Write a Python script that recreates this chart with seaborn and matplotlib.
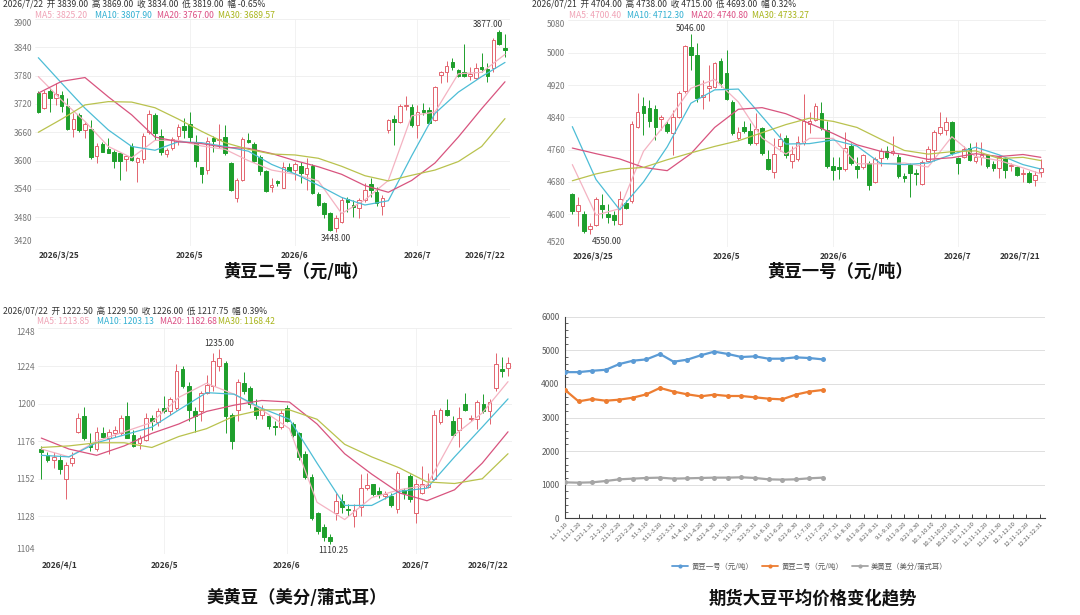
import numpy as np
import pandas as pd
import matplotlib
matplotlib.use("Agg")
from matplotlib import pyplot as plt
from matplotlib.lines import Line2D
from matplotlib.ticker import MultipleLocator
import seaborn as sns

W, H = 1080, 615

# ---------------- 黄豆二号（元/吨） 2026/3/25 - 2026/7/22 ----------------
d2_open = [3743, 3712, 3747, 3733, 3740, 3716, 3668, 3697, 3665, 3668, 3610, 3635, 3624, 3619, 3617, 3603, 3631, 3598, 3603, 3660,
           3697, 3653, 3613, 3626, 3653, 3673, 3678, 3640, 3586, 3580, 3647, 3643, 3651, 3596, 3520, 3559, 3643, 3635, 3608, 3577,
           3545, 3556, 3543, 3587, 3580, 3589, 3571, 3589, 3529, 3510, 3488, 3457, 3471, 3518, 3507, 3499, 3517, 3550, 3533, 3503,
           3665, 3688, 3681, 3716, 3714, 3675, 3707, 3707, 3686, 3781, 3787, 3808, 3792, 3787, 3780, 3776, 3798, 3794, 3796, 3872, 3839]
d2_high = [3748, 3750, 3753, 3764, 3748, 3732, 3700, 3700, 3681, 3686, 3637, 3640, 3647, 3623, 3619, 3612, 3637, 3608, 3658, 3707,
           3700, 3668, 3626, 3651, 3677, 3691, 3702, 3654, 3587, 3651, 3653, 3678, 3676, 3598, 3563, 3649, 3658, 3640, 3612, 3580,
           3563, 3559, 3598, 3594, 3598, 3598, 3605, 3592, 3534, 3513, 3492, 3485, 3522, 3524, 3517, 3520, 3552, 3563, 3545, 3527,
           3688, 3697, 3721, 3737, 3721, 3718, 3723, 3714, 3758, 3790, 3811, 3818, 3794, 3848, 3799, 3806, 3827, 3806, 3859, 3877, 3869]
d2_low = [3700, 3710, 3704, 3718, 3704, 3665, 3649, 3661, 3647, 3603, 3594, 3619, 3617, 3585, 3560, 3577, 3600, 3555, 3594, 3656,
          3644, 3612, 3608, 3623, 3633, 3647, 3640, 3587, 3552, 3571, 3619, 3626, 3612, 3536, 3513, 3556, 3637, 3598, 3570, 3533,
          3534, 3547, 3541, 3577, 3559, 3552, 3538, 3529, 3503, 3478, 3450, 3448, 3467, 3492, 3481, 3478, 3513, 3524, 3503, 3485,
          3658, 3633, 3679, 3707, 3672, 3647, 3697, 3677, 3684, 3764, 3767, 3792, 3778, 3778, 3771, 3773, 3788, 3767, 3788, 3845, 3819]
d2_close = [3704, 3744, 3732, 3742, 3716, 3667, 3688, 3665, 3677, 3608, 3630, 3619, 3617, 3600, 3600, 3610, 3601, 3605, 3653, 3699,
            3658, 3618, 3622, 3646, 3671, 3665, 3649, 3599, 3572, 3642, 3642, 3646, 3617, 3538, 3559, 3646, 3640, 3600, 3577, 3536,
            3548, 3553, 3586, 3578, 3592, 3573, 3585, 3531, 3506, 3487, 3453, 3478, 3517, 3513, 3502, 3517, 3538, 3538, 3510, 3520,
            3686, 3681, 3716, 3718, 3675, 3702, 3704, 3679, 3755, 3787, 3801, 3799, 3780, 3780, 3783, 3797, 3794, 3780, 3856, 3848, 3834]
d2_ma_day = [0, 4, 8, 12, 16, 20, 24, 28, 32, 36, 40, 44, 48, 52, 56, 60, 64, 68, 72, 76, 80]
d2_ma5 = [3778, 3728, 3683, 3630, 3606, 3643, 3643, 3631, 3624, 3600, 3580, 3571, 3557, 3488, 3517, 3558, 3695, 3703, 3784, 3787, 3825]
d2_ma10 = [3818, 3764, 3711, 3665, 3630, 3622, 3640, 3638, 3630, 3620, 3592, 3572, 3548, 3522, 3506, 3515, 3610, 3700, 3745, 3778, 3808]
d2_ma20 = [3743, 3768, 3776, 3735, 3697, 3650, 3640, 3636, 3628, 3626, 3615, 3600, 3587, 3571, 3547, 3533, 3558, 3595, 3650, 3710, 3767]
d2_ma30 = [3660, 3688, 3718, 3725, 3724, 3712, 3688, 3662, 3638, 3624, 3614, 3612, 3605, 3588, 3568, 3557, 3569, 3580, 3598, 3630, 3689]
d2_date_day = [0, 26, 44, 65, 80]
d2_date_lab = ["2026/3/25", "2026/5", "2026/6", "2026/7", "2026/7/22"]

# ---------------- 黄豆一号（元/吨） 2026/3/25 - 2026/7/21 ----------------
d1_open = [4649, 4607, 4601, 4564, 4573, 4622, 4601, 4599, 4577, 4628, 4632, 4817, 4869, 4863, 4861, 4836, 4823, 4801, 4842, 4905,
           5015, 4994, 4891, 4912, 4916, 4979, 4949, 4879, 4790, 4815, 4805, 4776, 4813, 4737, 4705, 4768, 4790, 4731, 4737, 4776,
           4823, 4834, 4850, 4809, 4719, 4717, 4712, 4770, 4719, 4716, 4727, 4681, 4739, 4756, 4751, 4743, 4695, 4723, 4702, 4675,
           4733, 4760, 4801, 4809, 4828, 4739, 4743, 4765, 4731, 4743, 4746, 4724, 4714, 4737, 4719, 4716, 4700, 4702, 4686, 4704]
d1_high = [4653, 4644, 4607, 4579, 4644, 4649, 4626, 4609, 4658, 4636, 4830, 4900, 4891, 4883, 4871, 4846, 4830, 4858, 4904, 5019,
           5046, 5023, 4932, 4970, 4978, 4988, 5007, 4883, 4817, 4830, 4826, 4850, 4817, 4760, 4788, 4801, 4797, 4768, 4793, 4897,
           4854, 4875, 4877, 4831, 4743, 4743, 4803, 4776, 4743, 4749, 4731, 4743, 4765, 4768, 4793, 4749, 4702, 4727, 4713, 4735,
           4768, 4809, 4852, 4842, 4831, 4743, 4768, 4776, 4780, 4778, 4749, 4731, 4747, 4743, 4727, 4719, 4713, 4706, 4706, 4738]
d1_low = [4601, 4570, 4553, 4550, 4570, 4591, 4579, 4573, 4573, 4612, 4628, 4813, 4797, 4817, 4784, 4809, 4801, 4747, 4838, 4900,
          4957, 4877, 4861, 4881, 4912, 4916, 4883, 4797, 4784, 4801, 4772, 4772, 4747, 4710, 4691, 4756, 4739, 4714, 4731, 4772,
          4801, 4830, 4809, 4714, 4686, 4688, 4708, 4723, 4690, 4713, 4661, 4677, 4719, 4737, 4747, 4690, 4681, 4642, 4673, 4672,
          4731, 4731, 4797, 4797, 4747, 4700, 4739, 4731, 4727, 4723, 4714, 4706, 4690, 4691, 4706, 4694, 4681, 4677, 4669, 4693]
d1_close = [4607, 4624, 4558, 4570, 4638, 4612, 4593, 4587, 4639, 4616, 4824, 4853, 4850, 4831, 4817, 4842, 4807, 4840, 4900, 5017,
            4994, 4889, 4895, 4918, 4975, 4924, 4886, 4801, 4803, 4805, 4776, 4812, 4751, 4713, 4749, 4787, 4747, 4749, 4780, 4831,
            4831, 4869, 4813, 4719, 4709, 4713, 4764, 4727, 4713, 4746, 4672, 4737, 4756, 4741, 4756, 4694, 4690, 4702, 4700, 4729,
            4762, 4803, 4817, 4828, 4751, 4727, 4762, 4735, 4741, 4747, 4719, 4714, 4743, 4710, 4721, 4698, 4702, 4681, 4698, 4715]
d1_ma_day = [0, 4, 8, 12, 16, 20, 24, 28, 32, 36, 40, 44, 48, 52, 56, 60, 64, 68, 72, 76, 79]
d1_ma5 = [4723, 4598, 4614, 4756, 4829, 4912, 4934, 4878, 4789, 4749, 4788, 4788, 4725, 4725, 4727, 4717, 4792, 4743, 4733, 4715, 4700]
d1_ma10 = [4817, 4686, 4611, 4680, 4767, 4875, 4908, 4910, 4842, 4774, 4775, 4784, 4769, 4726, 4723, 4727, 4748, 4766, 4747, 4723, 4712]
d1_ma20 = [4764, 4750, 4737, 4716, 4708, 4750, 4815, 4860, 4864, 4849, 4825, 4800, 4772, 4756, 4748, 4736, 4740, 4750, 4743, 4748, 4741]
d1_ma30 = [4683, 4700, 4712, 4716, 4735, 4752, 4768, 4782, 4802, 4822, 4838, 4830, 4815, 4786, 4758, 4749, 4755, 4757, 4738, 4741, 4733]
d1_date_day = [0, 26, 44, 65, 79]
d1_date_lab = ["2026/3/25", "2026/5", "2026/6", "2026/7", "2026/7/21"]

# ---------------- 美黄豆（美分/蒲式耳） 2026/4/1 - 2026/7/22 ----------------
us_open = [1171, 1167, 1164, 1164, 1152, 1162, 1182, 1192, 1175, 1171, 1181, 1178, 1181, 1181, 1192, 1180, 1175, 1177, 1191, 1188,
           1197, 1195, 1197, 1222, 1211, 1195, 1195, 1207, 1211, 1224, 1226, 1193, 1196, 1213, 1210, 1198, 1193, 1192, 1186, 1185,
           1197, 1187, 1181, 1168, 1153, 1130, 1121, 1115, 1130, 1138, 1133, 1128, 1134, 1146, 1149, 1144, 1141, 1141, 1133, 1145,
           1154, 1130, 1143, 1147, 1152, 1188, 1196, 1189, 1183, 1200, 1190, 1190, 1200, 1195, 1210, 1222, 1222.5]
us_high = [1173, 1169, 1169, 1167, 1163, 1169, 1194, 1198, 1181, 1185, 1185, 1184, 1186, 1193, 1201, 1183, 1180, 1194, 1193, 1197,
           1205, 1204, 1225, 1224, 1214, 1198, 1208, 1218, 1232, 1235, 1227, 1194, 1216, 1220, 1211, 1203, 1199, 1193, 1189, 1196,
           1199, 1188, 1182, 1170, 1155, 1131, 1123, 1117, 1143, 1142, 1136, 1136, 1155, 1156, 1149, 1147, 1144, 1143, 1157, 1146,
           1155, 1152, 1160, 1156, 1196, 1197, 1203, 1192, 1198, 1207, 1193, 1202, 1206, 1203, 1232, 1230, 1229.5]
us_low = [1152, 1163, 1159, 1155, 1139, 1160, 1181, 1177, 1170, 1170, 1178, 1168, 1179, 1180, 1178, 1172, 1171, 1176, 1183, 1186,
          1194, 1193, 1196, 1210, 1189, 1182, 1189, 1206, 1208, 1221, 1181, 1171, 1189, 1206, 1197, 1190, 1190, 1184, 1180, 1184,
          1188, 1179, 1164, 1152, 1126, 1117, 1112, 1110.25, 1126, 1130, 1128, 1121, 1128, 1145, 1141, 1140, 1139, 1134, 1130, 1139,
          1137, 1124, 1142, 1146, 1151, 1187, 1192, 1179, 1172, 1195, 1189, 1184, 1194, 1187, 1208, 1217, 1217.75]
us_close = [1169, 1164, 1166, 1158, 1161, 1165, 1191, 1178, 1172, 1182, 1179, 1182, 1183, 1191, 1178, 1173, 1178, 1191, 1189, 1195,
            1195, 1203, 1221, 1211, 1196, 1192, 1207, 1212, 1227, 1229, 1192, 1176, 1214, 1208, 1200, 1193, 1196, 1186, 1185, 1194,
            1189, 1180, 1166, 1153, 1127, 1119, 1115, 1112, 1138, 1134, 1132, 1132, 1146, 1148, 1142, 1142, 1142, 1135, 1156, 1143,
            1139, 1149, 1149, 1148, 1193, 1196, 1193, 1180, 1191, 1196, 1191, 1201, 1195, 1201, 1225, 1221, 1226]
us_ma_day = [0, 4.5, 9, 13.5, 18, 22.4, 26.9, 31.4, 35.9, 40.4, 44.9, 49.4, 53.8, 58.3, 62.8, 67.3, 71.8, 76]
us_ma5 = [1171, 1166, 1176, 1182, 1188, 1204, 1213, 1206, 1196, 1184, 1137, 1126, 1140, 1145, 1148, 1180, 1194, 1214]
us_ma10 = [1167, 1166, 1175, 1180, 1185, 1196, 1207, 1206, 1197, 1190, 1162, 1135, 1135, 1144, 1146, 1166, 1185, 1203]
us_ma20 = [1178, 1171, 1167, 1173, 1181, 1187, 1195, 1199, 1202, 1201, 1187, 1168, 1155, 1143, 1138, 1145, 1162, 1182]
us_ma30 = [1172, 1173, 1175, 1175, 1172, 1179, 1184, 1192, 1196, 1196, 1190, 1174, 1166, 1159, 1150, 1149, 1152, 1168]
us_date_day = [0, 20, 40, 61, 76]
us_date_lab = ["2026/4/1", "2026/5", "2026/6", "2026/7", "2026/7/22"]

# ---------------- 期货大豆平均价格变化趋势 ----------------
periods = ["1.1-1.10", "1.11-1.20", "1.21-1.31", "2.1-2.10", "2.11-2.20", "2.21-2.28",
           "3.1-3.10", "3.11-3.20", "3.21-3.31", "4.1-4.10", "4.11-4.20", "4.21-4.30",
           "5.1-5.10", "5.11-5.20", "5.21-5.31", "6.1-6.10", "6.11-6.20", "6.21-6.30",
           "7.1-7.10", "7.11-7.20", "7.21-7.31", "8.1-8.10", "8.11-8.20", "8.21-8.31",
           "9.1-9.10", "9.11-9.20", "9.21-9.30", "10.1-10.10", "10.11-10.20", "10.21-10.31",
           "11.1-11.10", "11.11-11.20", "11.21-11.30", "12.1-12.10", "12.11-12.20", "12.21-12.31"]
avg_d1 = [4350, 4350, 4390, 4420, 4590, 4690, 4730, 4890, 4660, 4720, 4850, 4960, 4890, 4800, 4820, 4750, 4750, 4790, 4770, 4730]
avg_d2 = [3820, 3480, 3550, 3500, 3530, 3590, 3690, 3880, 3770, 3690, 3630, 3680, 3640, 3640, 3600, 3560, 3540, 3680, 3770, 3820]
avg_us = [1070, 1060, 1070, 1110, 1160, 1180, 1200, 1210, 1180, 1190, 1200, 1210, 1210, 1220, 1200, 1160, 1150, 1160, 1190, 1210]
avg_names = ["黄豆一号（元/吨）", "黄豆二号（元/吨）", "美黄豆（美分/蒲式耳）"]

UP, DOWN = "#e3646e", "#1e9f2c"
MA_LINE = ["#f4b3c2", "#4dbdd6", "#d8547f", "#b9c24e"]
MA_TEXT = ["#f0a3b6", "#32b0d2", "#dc4f84", "#a9b51c"]

sns.set_theme(style="white")
plt.rcParams["font.family"] = ["Noto Sans CJK SC", "DejaVu Sans"]
plt.rcParams["axes.unicode_minus"] = False

fig = plt.figure(figsize=(W / 100, H / 100), dpi=100)
fig.patch.set_facecolor("white")


def add_ax(x0, y0, x1, y1):
    return fig.add_axes([x0 / W, 1 - y1 / H, (x1 - x0) / W, (y1 - y0) / H])


def ftext(x, y, s, **kw):
    fig.text(x / W, 1 - y / H, s, **kw)


def kline(ax, o, h, l, c, ma_day, mas, xlim, ylim, ystep, dday, dlab, pad):
    o, h, l, c = map(np.asarray, (o, h, l, c))
    x = np.arange(len(o))
    up = c >= o
    col = np.where(up, UP, DOWN)
    ax.vlines(x, l, h, colors=col, linewidth=0.7, zorder=2)
    body = np.maximum(np.abs(c - o), (ylim[1] - ylim[0]) * 0.003)
    ax.bar(x, body, bottom=np.minimum(o, c), width=0.62,
           color=np.where(up, "white", DOWN), edgecolor=col, linewidth=0.7, zorder=3)
    for vals, colr in zip(mas, MA_LINE):
        sns.lineplot(x=ma_day, y=vals, ax=ax, color=colr, linewidth=0.9, zorder=4)
    ax.set_xlim(*xlim)
    ax.set_ylim(*ylim)
    ax.set_yticks(np.arange(ylim[0], ylim[1] + 1, ystep))
    ax.grid(axis="y", color="#eeeeee", linewidth=0.6)
    for d in dday[1:-1]:
        ax.axvline(d, color="#f0f0f0", linewidth=0.6, zorder=0)
    ax.set_xticks(dday)
    ax.set_xticklabels(dlab, fontsize=6, fontweight="bold", color="#333333")
    tl = ax.get_xticklabels()
    tl[0].set_ha("left")
    tl[-1].set_ha("right")
    ax.tick_params(axis="y", labelsize=6, labelcolor="#777777", length=0, pad=2)
    ax.tick_params(axis="x", length=0, pad=pad)
    yl = ax.get_yticklabels()
    yl[0].set_va("bottom")
    yl[-1].set_va("top")
    for sp in ax.spines.values():
        sp.set_visible(False)
    ax.set_xlabel("")
    ax.set_ylabel("")


def header(x, y, line1, mx, mvals):
    ftext(x, y, line1, fontsize=6.2, color="#333333", va="center")
    for xx, s, colr in zip(mx, mvals, MA_TEXT):
        ftext(xx, y + 10, s, fontsize=6.2, color=colr, va="center")


# ---- panel 1: 黄豆二号 ----
ax1 = add_ax(35, 19, 510, 245.6)
kline(ax1, d2_open, d2_high, d2_low, d2_close, d2_ma_day, [d2_ma5, d2_ma10, d2_ma20, d2_ma30],
      (-0.57, 80.86), (3420, 3900), 60, d2_date_day, d2_date_lab, 3.5)
ax1.text(79.6, 3879, "3877.00", fontsize=6, color="#333333", ha="right", va="bottom")
ax1.text(51, 3444, "3448.00", fontsize=6, color="#333333", ha="center", va="top")
header(3, 5, "2026/7/22  开 3839.00  高 3869.00  收 3834.00  低 3819.00  幅 -0.65%",
       [35, 95, 157, 218], ["MA5: 3825.20", "MA10: 3807.90", "MA20: 3767.00", "MA30: 3689.57"])
ftext(296, 272, "黄豆二号（元/吨）", fontsize=12.5, fontweight="bold", color="#111111", ha="center", va="center")

# ---- panel 2: 黄豆一号 ----
ax2 = add_ax(568, 20.4, 1046, 246.6)
kline(ax2, d1_open, d1_high, d1_low, d1_close, d1_ma_day, [d1_ma5, d1_ma10, d1_ma20, d1_ma30],
      (-0.73, 79.88), (4520, 5080), 80, d1_date_day, d1_date_lab, 3.5)
ax2.text(20, 5049, "5046.00", fontsize=6, color="#333333", ha="center", va="bottom")
ax2.text(3.3, 4545, "4550.00", fontsize=6, color="#333333", ha="left", va="top")
header(532, 5, "2026/07/21  开 4704.00  高 4738.00  收 4715.00  低 4693.00  幅 0.32%",
       [569, 627, 691, 752], ["MA5: 4700.40", "MA10: 4712.30", "MA20: 4740.80", "MA30: 4733.27"])
ftext(840, 272, "黄豆一号（元/吨）", fontsize=12.5, fontweight="bold", color="#111111", ha="center", va="center")

# ---- panel 3: 美黄豆 ----
ax3 = add_ax(38, 328.4, 512, 554)
kline(ax3, us_open, us_high, us_low, us_close, us_ma_day, [us_ma5, us_ma10, us_ma20, us_ma30],
      (-0.54, 76.65), (1104, 1248), 24, us_date_day, us_date_lab, 5)
ax3.text(29, 1235.8, "1235.00", fontsize=6, color="#333333", ha="center", va="bottom")
ax3.text(47.5, 1109.3, "1110.25", fontsize=6, color="#333333", ha="center", va="top")
header(3, 312, "2026/07/22  开 1222.50  高 1229.50  收 1226.00  低 1217.75  幅 0.39%",
       [37, 97, 160, 218], ["MA5: 1213.85", "MA10: 1203.13", "MA20: 1182.68", "MA30: 1168.42"])
ftext(297, 598, "美黄豆（美分/蒲式耳）", fontsize=12.5, fontweight="bold", color="#111111", ha="center", va="center")

# ---- panel 4: 期货大豆平均价格变化趋势 ----
ax4 = add_ax(565, 316.7, 1045, 518.3)
line_cols = ["#5b9bd5", "#ed7d31", "#a5a5a5"]
df = pd.DataFrame({
    "pos": list(range(len(avg_d1))) * 3,
    "value": avg_d1 + avg_d2 + avg_us,
    "series": [avg_names[0]] * len(avg_d1) + [avg_names[1]] * len(avg_d2) + [avg_names[2]] * len(avg_us),
})
sns.lineplot(data=df, x="pos", y="value", hue="series", palette=line_cols, marker="o",
             markersize=3.6, markeredgewidth=0, linewidth=1.6, ax=ax4, legend=False, zorder=3)
ax4.set_xlim(0, 35.37)
ax4.set_ylim(0, 6000)
ax4.set_yticks(range(0, 6001, 1000))
ax4.yaxis.set_minor_locator(MultipleLocator(200))
ax4.set_xticks(range(len(periods)))
ax4.set_xticklabels(periods, rotation=45, ha="right", rotation_mode="anchor", fontsize=4.3, color="#595959")
ax4.grid(axis="y", which="major", color="#d9d9d9", linewidth=0.6)
ax4.tick_params(axis="y", which="major", direction="in", length=3, width=0.6, labelsize=6, labelcolor="#595959", pad=4)
ax4.tick_params(axis="y", which="minor", direction="in", length=1.8, width=0.5, left=True)
ax4.tick_params(axis="x", direction="in", length=3, width=0.6, pad=2, bottom=True)
for sp in ["top", "right"]:
    ax4.spines[sp].set_visible(False)
for sp in ["left", "bottom"]:
    ax4.spines[sp].set_color("#404040")
    ax4.spines[sp].set_linewidth(0.8)
ax4.set_xlabel("")
ax4.set_ylabel("")
handles = [Line2D([], [], color=cl, marker="o", markersize=3, markeredgewidth=0, linewidth=1.3) for cl in line_cols]
fig.legend(handles, avg_names, loc="center", bbox_to_anchor=(810 / W, 1 - 567 / H), ncol=3, frameon=False,
           fontsize=5.3, handlelength=2.2, columnspacing=1.2, handletextpad=0.4, labelcolor="#595959")
ftext(813, 598, "期货大豆平均价格变化趋势", fontsize=12.5, fontweight="bold", color="#111111", ha="center", va="center")

fig.savefig("out.png", dpi=100, facecolor="white")
